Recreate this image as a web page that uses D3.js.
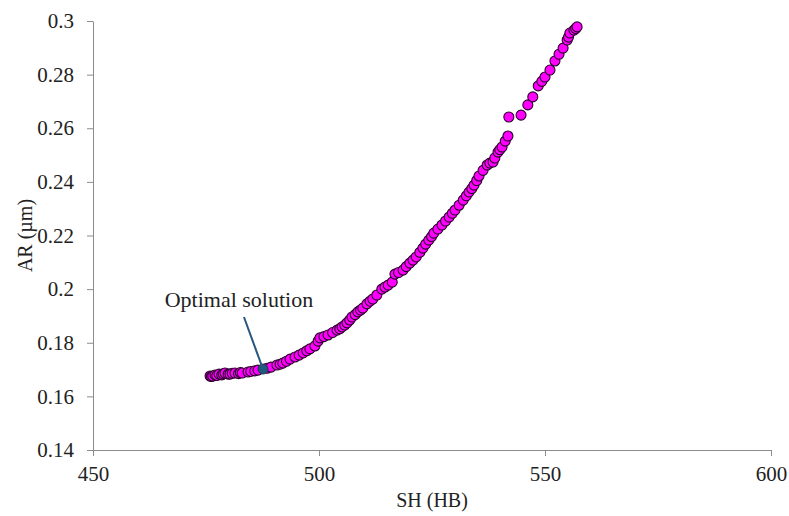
<!DOCTYPE html>
<html>
<head>
<meta charset="utf-8">
<script src="https://cdn.jsdelivr.net/npm/d3@7"></script>
<style>
  body { margin: 0; background: #fff; }
  text { font-family: "Liberation Serif", "Times New Roman", serif; fill: #222; }
</style>
</head>
<body>
<svg id="chart" width="789" height="516"></svg>
<script>
// SH (HB) values of the Pareto points
const shValues = [
  475.9, 476.2, 476.5, 477.0, 477.4, 477.9, 478.5, 478.8, 479.2, 479.9,
  480.3, 480.8, 481.4, 482.2, 482.6, 483.0, 484.3, 484.9, 485.8, 486.5,
  488.5, 489.4, 490.7, 491.4, 492.0, 492.8, 493.6, 494.7, 495.6, 496.5,
  497.3, 498.0, 499.1, 499.8, 500.2, 501.1, 502.0, 503.0, 504.0, 504.6,
  505.1, 505.7, 506.2, 506.8, 507.3, 508.0, 508.6, 509.2, 509.7, 510.6,
  511.3, 511.9, 512.8, 513.9, 514.6, 515.3, 516.2, 516.8, 517.6, 518.6,
  519.3, 520.1, 520.8, 521.5, 522.3, 523.0, 523.6, 524.3, 524.9, 525.4,
  526.3, 527.2, 528.0, 528.8, 529.5, 530.1, 531.0, 531.9, 532.6, 533.2,
  533.8, 534.3, 534.9, 535.4, 536.3, 537.2, 537.8, 538.5, 538.9, 539.6,
  540.0, 540.5, 541.2, 541.8, 542.0, 544.7, 546.2, 547.3, 548.5, 549.3,
  550.0, 551.1, 552.2, 553.1, 554.0, 554.9, 555.2, 555.5, 556.4, 556.8,
  557.1
];
// AR (um) values, same order
const arValues = [
  0.1676, 0.1674, 0.1676, 0.1680, 0.1678, 0.1683, 0.1680, 0.1684, 0.1687, 0.1683,
  0.1683, 0.1686, 0.1687, 0.1685, 0.1689, 0.1687, 0.1691, 0.1693, 0.1695, 0.1698,
  0.1705, 0.1709, 0.1717, 0.1720, 0.1724, 0.1731, 0.1739, 0.1747, 0.1754, 0.1762,
  0.1770, 0.1777, 0.1788, 0.1806, 0.1818, 0.1823, 0.1829, 0.1838, 0.1847, 0.1852,
  0.1859, 0.1866, 0.1874, 0.1885, 0.1896, 0.1905, 0.1915, 0.1922, 0.1929, 0.1945,
  0.1955, 0.1963, 0.1978, 0.2000, 0.2008, 0.2015, 0.2026, 0.2056, 0.2062, 0.2071,
  0.2084, 0.2097, 0.2108, 0.2120, 0.2137, 0.2153, 0.2168, 0.2183, 0.2196, 0.2209,
  0.2224, 0.2239, 0.2254, 0.2269, 0.2283, 0.2295, 0.2313, 0.2332, 0.2348, 0.2362,
  0.2375, 0.2388, 0.2405, 0.2422, 0.2443, 0.2463, 0.2470, 0.2474, 0.2489, 0.2511,
  0.2520, 0.2530, 0.2552, 0.2571, 0.2642, 0.2649, 0.2687, 0.2717, 0.2758, 0.2775,
  0.2791, 0.2817, 0.2851, 0.2876, 0.2899, 0.2929, 0.2940, 0.2955, 0.2966, 0.2972,
  0.2978
];
const optimal = { sh: 487.6, ar: 0.1702, label: "Optimal solution" };

const xTicks = [450, 500, 550, 600];
const yTicks = [0.14, 0.16, 0.18, 0.2, 0.22, 0.24, 0.26, 0.28, 0.3];

const svg = d3.select("#chart");
const margin = { left: 93, right: 18, top: 21, bottom: 66 };
const width = 789 - margin.left - margin.right;
const height = 516 - margin.top - margin.bottom;

const x = d3.scaleLinear().domain([450, 600]).range([0, width]);
const y = d3.scaleLinear().domain([0.14, 0.3]).range([height, 0]);

const g = svg.append("g").attr("transform", `translate(${margin.left},${margin.top})`);

// axes
const xAxis = g.append("g")
  .attr("transform", `translate(0,${height})`)
  .call(d3.axisBottom(x).tickValues(xTicks).tickFormat(d3.format("d")).tickSize(6).tickSizeOuter(0));
const yAxis = g.append("g")
  .call(d3.axisLeft(y).tickValues(yTicks).tickFormat(d => String(+d.toFixed(2))).tickSize(6).tickSizeOuter(0));

[xAxis, yAxis].forEach(a => {
  a.select(".domain").attr("stroke", "#8c8c8c");
  a.selectAll(".tick line").attr("stroke", "#8c8c8c");
  a.selectAll(".tick text").style("font-size", "21px").attr("fill", "#222");
});
xAxis.selectAll(".tick text").attr("dy", "1.05em");
yAxis.selectAll(".tick text").attr("x", -19);

// axis titles
svg.append("text")
  .attr("x", margin.left + x(525))
  .attr("y", 507)
  .attr("text-anchor", "middle")
  .style("font-size", "20px")
  .text("SH (HB)");
svg.append("text")
  .attr("transform", `translate(32,${margin.top + y(0.22)}) rotate(-90)`)
  .attr("text-anchor", "middle")
  .style("font-size", "20px")
  .text("AR (\u00b5m)");

// points
const pts = shValues.map((s, i) => ({ sh: s, ar: arValues[i] }));
g.selectAll("circle.pt")
  .data(pts)
  .join("circle")
  .attr("class", "pt")
  .attr("cx", d => x(d.sh))
  .attr("cy", d => y(d.ar))
  .attr("r", 5)
  .attr("fill", "#ff00ff")
  .attr("stroke", "#2a002a")
  .attr("stroke-width", 1.1);

// optimal solution marker + callout
g.append("circle")
  .attr("cx", x(optimal.sh))
  .attr("cy", y(optimal.ar))
  .attr("r", 5)
  .attr("fill", "#1f5a7a")
  .attr("stroke", "#1b3550")
  .attr("stroke-width", 1);
g.append("line")
  .attr("x1", x(optimal.sh) - 19)
  .attr("y1", y(optimal.ar) - 52)
  .attr("x2", x(optimal.sh))
  .attr("y2", y(optimal.ar))
  .attr("stroke", "#2a5780")
  .attr("stroke-width", 2);
g.append("text")
  .attr("x", x(optimal.sh) - 24)
  .attr("y", y(optimal.ar) - 62)
  .attr("text-anchor", "middle")
  .style("font-size", "22px")
  .text(optimal.label);
</script>
</body>
</html>
